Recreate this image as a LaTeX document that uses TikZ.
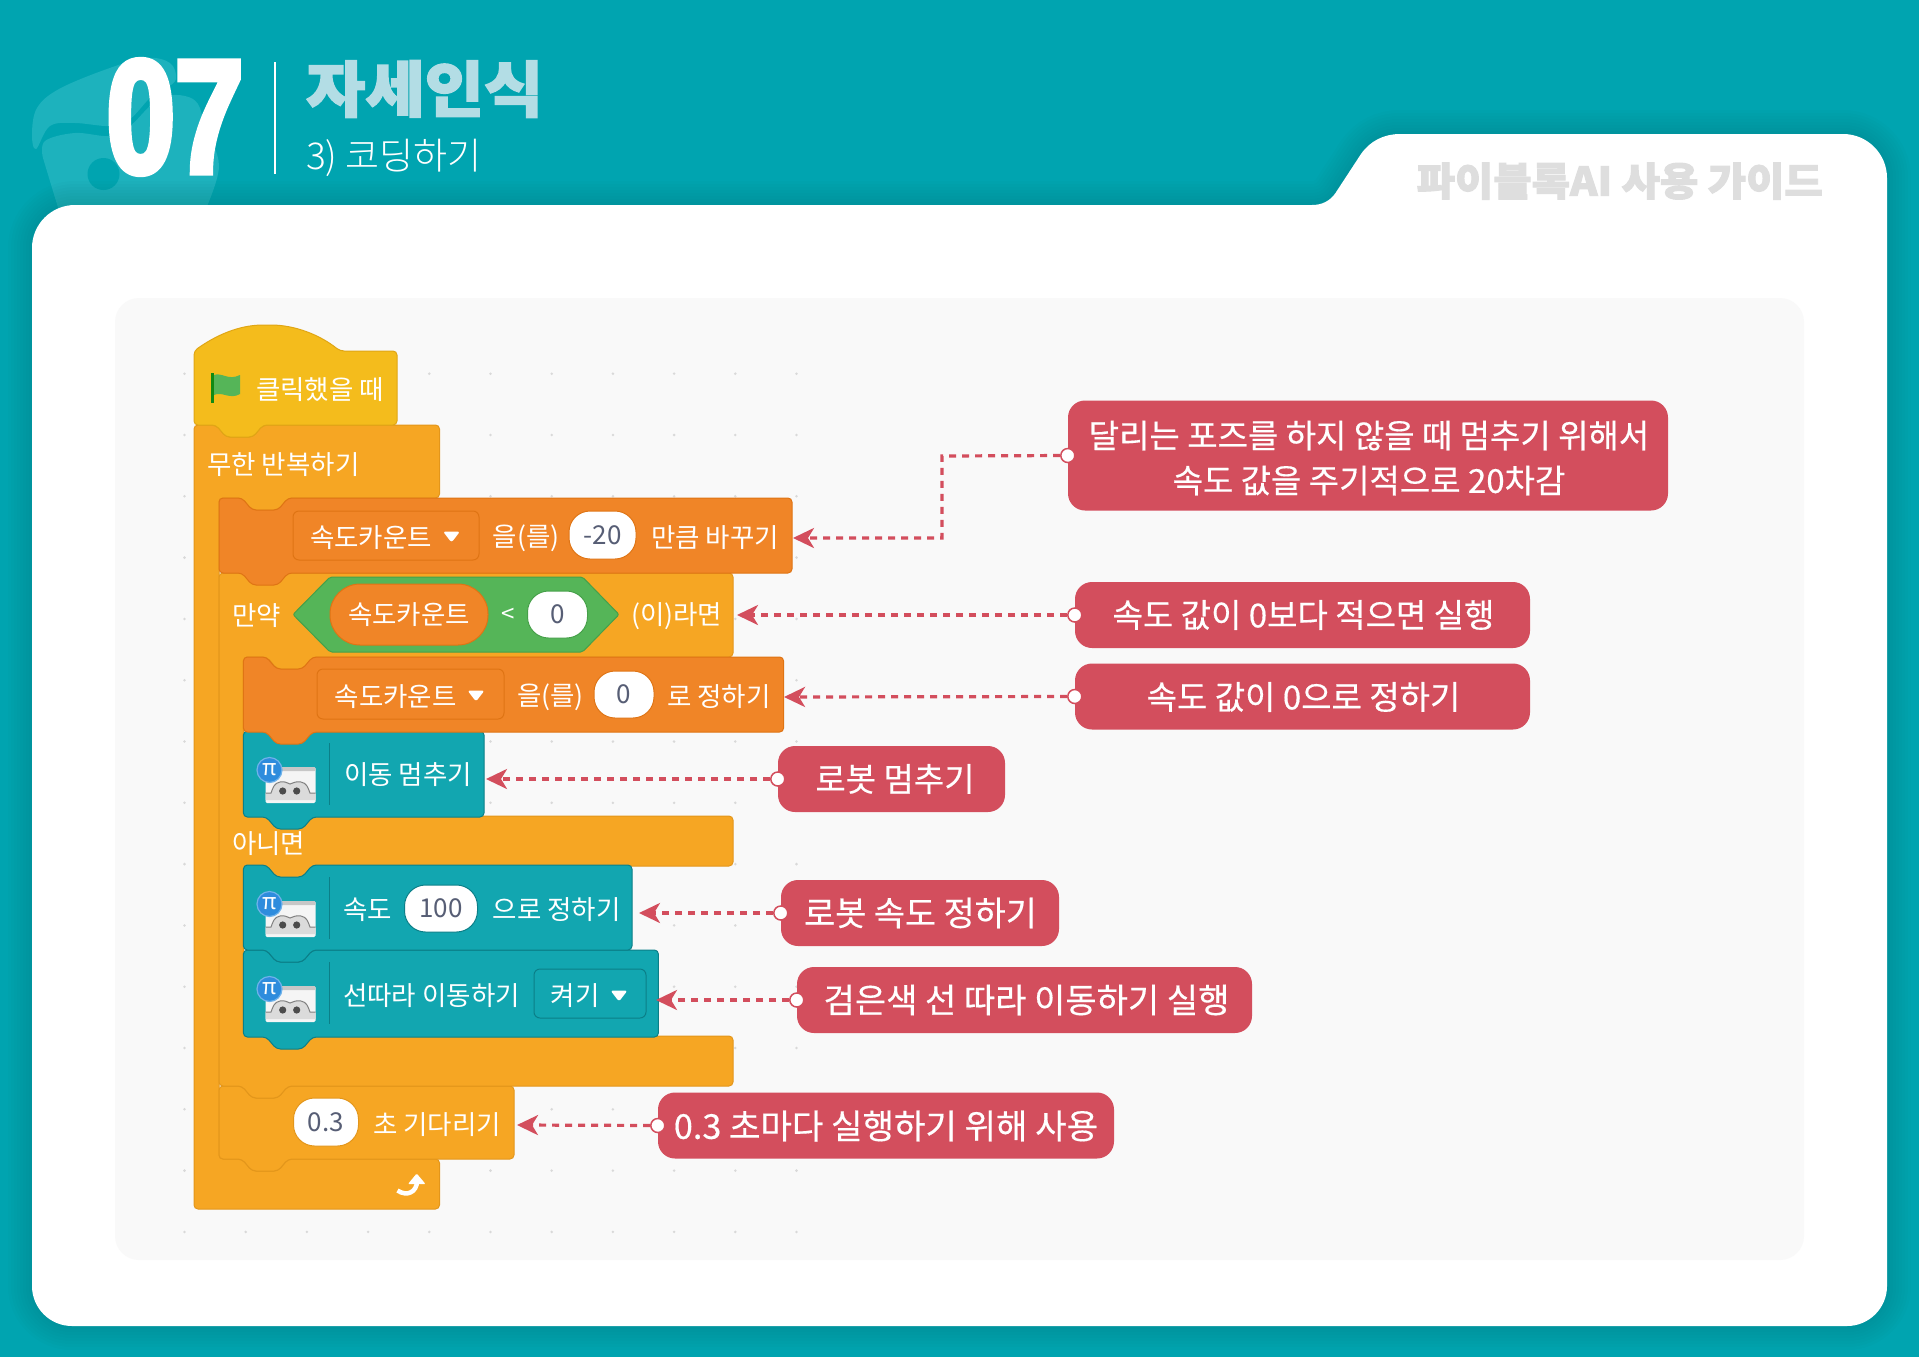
\documentclass[tikz,border=0pt]{standalone}
\usepackage{fontspec}
\usetikzlibrary{arrows.meta,calc}
\setmainfont{Noto Sans CJK KR}
\newfontfamily\numfont[FakeStretch=0.76,FakeBold=3.5]{Liberation Sans}
\newfontfamily\heavyfont[FakeBold=2.5,FakeStretch=1.06]{Noto Sans CJK KR}
\newfontfamily\kfont{Noto Sans CJK KR}
\newfontfamily\medfont[FakeBold=0.4]{Noto Sans CJK KR}
\newfontfamily\lightfont{Noto Sans CJK KR Light}
\definecolor{bgteal}{HTML}{00A4B0}
\definecolor{blobteal}{HTML}{1DB2BD}
\definecolor{titleblue}{HTML}{B3DDE5}
\definecolor{redbox}{HTML}{D34E5D}
\definecolor{ctrl}{HTML}{F6A623}
\definecolor{ctrlb}{HTML}{E3961B}
\definecolor{hatc}{HTML}{F4BC1C}
\definecolor{hatb}{HTML}{E0A615}
\definecolor{datac}{HTML}{F08527}
\definecolor{datab}{HTML}{DF7414}
\definecolor{tealc}{HTML}{12A6B0}
\definecolor{tealb}{HTML}{0B7F88}
\definecolor{opg}{HTML}{55B558}
\definecolor{opb}{HTML}{46A049}
\definecolor{valtx}{HTML}{575E75}
\definecolor{piblue}{HTML}{2E8CDD}
\definecolor{piring}{HTML}{6FB2EA}
\tikzset{
  ctrlblock/.style={fill=ctrl,draw=ctrlb,line width=1pt,rounded corners=4pt},
  hatblock/.style={fill=hatc,draw=hatb,line width=1pt,rounded corners=4pt},
  datablock/.style={fill=datac,draw=datab,line width=1pt,rounded corners=4pt},
  tealblock/.style={fill=tealc,draw=tealb,line width=1pt,rounded corners=4pt},
  btext/.style={text=white,font=\kfont\fontsize{26.5}{30}\selectfont,anchor=west,inner sep=0pt,yshift=-2pt},
  valpill/.style={fill=white,draw=#1,line width=1pt,rounded corners=21pt,inner sep=0pt,text=valtx,font=\kfont\fontsize{26}{30}\selectfont},
  dropbox/.style={draw=#1,line width=1pt,rounded corners=6pt,inner sep=0pt},
  callout/.style={fill=redbox,rounded corners=17pt,inner sep=0pt,minimum height=66pt},
  calltext/.style={text=white,align=center,inner sep=0pt,font=\medfont\fontsize{#1}{45}\selectfont},
  dotend/.style={circle,fill=white,draw=redbox,line width=1.5pt,minimum size=14pt,inner sep=0pt},
  conn/.style={draw=redbox,line width=3.2pt,dash pattern=on 7pt off 6pt,-{Stealth[length=21pt,width=20pt,inset=6pt,fill=redbox]}},
  griddot/.style={fill=black!15,draw=none},
}
\newcommand{\stackblock}[5]{%
  \draw[#1] (#2,#3) -- (#2+23,#3) -- (#2+33,#3+12) -- (#2+59,#3+12) -- (#2+69,#3) -- (#4,#3) -- (#4,#5) -- (#2+69,#5) -- (#2+59,#5+12) -- (#2+33,#5+12) -- (#2+23,#5) -- (#2,#5) -- cycle;}
\newcommand{\ddtri}[2]{%
  \fill[white,rounded corners=2.5pt] (#1-8.5,#2-3.5) -- (#1+8.5,#2-3.5) -- (#1,#2+7.5) -- cycle;}
\newcommand{\roboticon}[2]{%
  \draw[tealb,line width=1pt] (329,#1+12) -- (329,#1+74);
  \fill[black!4,rounded corners=1.5pt] (265.5,#1+36) rectangle (315.5,#1+72);
  \fill[black!22,rounded corners=1pt] (267,#1+36) rectangle (315.5,#1+40);
  \fill[black!14] (265.5,#1+69) -- (265.5,#1+62) -- (271,#1+62) .. controls (273,#1+57) and (274,#1+52) .. (280,#1+51) .. controls (285,#1+50) and (287,#1+52) .. (290,#1+53) .. controls (293,#1+52) and (296,#1+50) .. (301,#1+51) .. controls (307,#1+52) and (308,#1+57) .. (310,#1+62) -- (315.5,#1+62) -- (315.5,#1+69) -- cycle;
  \draw[black!50,line width=1pt] (265.5,#1+62) -- (271,#1+62) .. controls (273,#1+57) and (274,#1+52) .. (280,#1+51) .. controls (285,#1+50) and (287,#1+52) .. (290,#1+53) .. controls (293,#1+52) and (296,#1+50) .. (301,#1+51) .. controls (307,#1+52) and (308,#1+57) .. (310,#1+62) -- (315.5,#1+62);
  \fill[black!70] (282.7,#1+60) circle (3.6) (296.7,#1+60) circle (3.6);
  \node[circle,fill=piblue,draw=piring,line width=1.2pt,minimum size=25pt,inner sep=0pt,text=white,font=\kfont\fontsize{22}{24}\selectfont] (#2) at (269.5,#1+39) {π};}
\begin{document}
\begin{tikzpicture}[x=1pt,y=-1pt]
\useasboundingbox (0,-1) rectangle (1919,1356);
\fill[bgteal] (0,-1) rectangle (1919,1356);
% decoration
\fill[blobteal] plot[smooth cycle,tension=.6] coordinates {(36,148) (32,133) (37,107) (59,88) (107,68) (146,57) (170,62) (176,78) (165,88) (150,97) (130,118) (110,125) (75,122) (50,125)};
\fill[blobteal] plot[smooth,tension=.6] coordinates {(43,157) (45,140) (75,132) (110,135) (130,125) (150,105) (165,95) (185,95) (198,103) (205,125) (219,165) (205,210)} -- (59,210) -- cycle;
\fill[bgteal] (103.5,173) circle (16);
% panel shadow and panel
\def\panelpath{(75,204) -- (1312,204) .. controls (1322,204) and (1330,200) .. (1335.5,192) -- (1361,153) .. controls (1370,140) and (1384,133) .. (1400,133) -- (1843,133) arc[start angle=-90,end angle=0,radius=44] -- (1887,1285) arc[start angle=0,end angle=90,radius=40] -- (72,1325) arc[start angle=90,end angle=180,radius=40] -- (32,247) arc[start angle=180,end angle=270,radius=43] -- cycle}
\foreach \w in {6,12,...,48} {\draw[black,opacity=.012,line width=\w pt] \panelpath;}
\fill[white] \panelpath;
\fill[black!2.5,rounded corners=24pt] (115,297) rectangle (1804,1259);
% grid dots
\foreach \i in {0,...,10} \foreach \j in {0,...,14} {\fill[griddot] (184.5+61.2*\i,372.7+61.3*\j) circle (1.4);}
% header
\node[inner sep=0pt,text=white,anchor=center,font=\numfont\bfseries\fontsize{162}{162}\selectfont] (num) at (175,116) {07};
\coordinate (ruletop) at (275,61);
\coordinate (rulebot) at (275,173);
\draw[white,line width=2pt] (ruletop) -- (rulebot);
\node[inner sep=0pt,anchor=west,text=titleblue,font=\heavyfont\bfseries\fontsize{60.8}{63}\selectfont] (title) at (306,88) {자세인식};
\node[inner sep=0pt,anchor=west,text=white,font=\lightfont\fontsize{37}{38}\selectfont] (subtitle) at (306,157) {3) 코딩하기};
\node[inner sep=0pt,anchor=east,text=black!13,font=\heavyfont\bfseries\fontsize{39.3}{42}\selectfont] (guide) at (1823,180) {파이블록AI 사용 가이드};
\begin{scope}[yshift=1pt]
% C-block forever
\draw[ctrlblock] (194,425) -- (216,425) -- (226,437) -- (253,437) -- (263,425) -- (439.5,425) -- (439.5,498) -- (288,498) -- (278,510) -- (252,510) -- (242,498) -- (219,498) -- (219,1159) -- (242,1159) -- (252,1171) -- (278,1171) -- (288,1159) -- (439.5,1159) -- (439.5,1209) -- (194,1209) -- cycle;
% wait block
\stackblock{ctrlblock}{219}{1086}{514}{1159}
% if block
\draw[ctrlblock] (219,573) -- (733,573) -- (733,657) -- (313,657) -- (303,669) -- (277,669) -- (267,657) -- (243.4,657) -- (243.4,816) -- (267,816) -- (277,828) -- (303,828) -- (313,816) -- (733,816) -- (733,866) -- (313,866) -- (303,878) -- (277,878) -- (267,866) -- (243.4,866) -- (243.4,1036) -- (267,1036) -- (277,1048) -- (303,1048) -- (313,1036) -- (733,1036) -- (733,1086) -- (288,1086) -- (278,1098) -- (252,1098) -- (242,1086) -- (219,1086) -- cycle;
% teal blocks, lower first
\stackblock{tealblock}{243.4}{950}{658.4}{1037}
\stackblock{tealblock}{243.4}{865}{632}{950}
\stackblock{tealblock}{243.4}{731}{484}{817}
\stackblock{datablock}{243.4}{657}{783.6}{732}
\stackblock{datablock}{219}{498}{792}{573}
% hat
\draw[hatblock] (194,351) .. controls (222,331) and (245,325) .. (267,325) .. controls (295,325) and (320,335) .. (340,351) -- (397,351) -- (397,425) -- (263,425) -- (253,437) -- (226,437) -- (216,425) -- (194,425) -- cycle;
% flag
\draw[green!50!black!80!opg,line width=3pt] (212,373) -- (212,403);
\fill[opg] (214,375) .. controls (222,372) and (228,381) .. (240,375) -- (240,394) .. controls (230,400) and (222,391) .. (214,395) -- cycle;
\node[btext] (tclick) at (256,388) {클릭했을 때};
\node[btext] (tforever) at (207,463) {무한 반복하기};
% change block
\node[dropbox=datab,minimum width=186pt,minimum height=49pt] (dd1) at (386,535.5) {};
\node[btext] (tvar1) at (310,536) {속도카운트};
\ddtri{451.5}{535}
\node[btext] (teul1) at (492.5,536) {을(를)};
\node[valpill=datab,minimum width=67pt,minimum height=48pt] (val20) at (602.5,535) {-20};
\node[btext] (tchange) at (651,536) {만큼 바꾸기};
% if header
\node[btext] (tif) at (232,614) {만약};
\draw[fill=opg,draw=opb,line width=1pt,rounded corners=2pt] (293,614.5) -- (330,577) -- (582.5,577) -- (619,614.5) -- (582.5,652) -- (330,652) -- cycle;
\node[fill=datac,draw=datab,line width=1pt,rounded corners=30pt,minimum width=158pt,minimum height=61pt,inner sep=0pt,text=white,font=\kfont\fontsize{26.5}{30}\selectfont] (tvarop) at (409,614.5) {속도카운트};
\node[inner sep=0pt,text=white,font=\kfont\fontsize{24}{24}\selectfont] (tlt) at (508,615) {<};
\node[valpill=opb,minimum width=60pt,minimum height=47pt] (val0a) at (557.5,614.5) {0};
\node[btext] (tthen) at (631,614) {(이)라면};
% set block
\node[dropbox=datab,minimum width=187pt,minimum height=50pt] (dd2) at (410.5,694) {};
\node[btext] (tvar2) at (334.5,695) {속도카운트};
\ddtri{476}{694}
\node[btext] (teul2) at (517,695) {을(를)};
\node[valpill=datab,minimum width=60pt,minimum height=47pt] (val0b) at (624,694.5) {0};
\node[btext] (tset) at (667,695) {로 정하기};
% teal 1
\roboticon{731}{pi1}
\node[btext] (tstop) at (344,773) {이동 멈추기};
\node[btext] (telse) at (232,842) {아니면};
% teal 2
\roboticon{865}{pi2}
\node[btext] (tspeed) at (343,908) {속도};
\node[valpill=tealb,minimum width=73pt,minimum height=47pt] (val100) at (441,908.5) {100};
\node[btext] (tspeed2) at (492.5,908) {으로 정하기};
% teal 3
\roboticon{950}{pi3}
\node[btext] (tline) at (343,994) {선따라 이동하기};
\node[dropbox=tealb,minimum width=112pt,minimum height=49pt] (dd3) at (590,993.5) {};
\node[btext] (ton) at (550.5,994) {켜기};
\ddtri{619}{994}
% wait
\node[valpill=ctrlb,minimum width=65pt,minimum height=48pt] (val03) at (326,1122) {0.3};
\node[btext] (twait) at (373,1123) {초 기다리기};
% loop arrow
\draw[white,line width=4.5pt] (397.5,1190.5) .. controls (407,1197) and (417,1192) .. (417,1181);
\fill[white,rounded corners=1pt] (425.5,1184) -- (416.7,1173.5) -- (408,1184) -- cycle;
\end{scope}
% callouts
\node[callout,minimum width=600pt,minimum height=110pt] (c1) at (1368,454.5) {};
\node[calltext=33] (l1) at (1369,457) {달리는 포즈를 하지 않을 때 멈추기 위해서\\속도 값을 주기적으로 20차감};
\node[callout,minimum width=455pt] (c2) at (1302.5,614) {};
\node[calltext=33] (l2) at (1303.5,614) {속도 값이 0보다 적으면 실행};
\node[callout,minimum width=455pt] (c3) at (1302.5,695.5) {};
\node[calltext=33] (l3) at (1303.5,696) {속도 값이 0으로 정하기};
\node[callout,minimum width=227pt] (c4) at (891.5,778) {};
\node[calltext=33] (l4) at (895,778) {로봇 멈추기};
\node[callout,minimum width=278pt] (c5) at (920,912) {};
\node[calltext=33.8] (l5) at (920.5,912) {로봇 속도 정하기};
\node[callout,minimum width=455pt] (c6) at (1024.5,999) {};
\node[calltext=34] (l6) at (1026.5,999) {검은색 선 따라 이동하기 실행};
\node[callout,minimum width=456pt] (c7) at (886,1124.5) {};
\node[calltext=34.2] (l7) at (886,1125) {0.3 초마다 실행하기 위해 사용};
% connector ends
\coordinate (t1) at (793,537);
\coordinate (t2) at (737,614);
\coordinate (t3) at (784,696);
\coordinate (t4) at (486,778);
\coordinate (t5) at (639,912);
\coordinate (t6) at (656,999);
\coordinate (t7) at (517,1124);
\coordinate (bend1) at (942,455);
\coordinate (bend2) at (942,537);
\node[dotend] (d1) at (c1.west) {};
\node[dotend] (d2) at (c2.west) {};
\node[dotend] (d3) at (c3.west) {};
\node[dotend] (d4) at (c4.west) {};
\node[dotend] (d5) at (c5.west) {};
\node[dotend] (d6) at (c6.west) {};
\node[dotend] (d7) at (c7.west) {};
\draw[conn] (d1) -- (bend1) -- (bend2) -- (t1);
\draw[conn] (d2) -- (t2);
\draw[conn] (d3) -- (t3);
\draw[conn] (d4) -- (t4);
\draw[conn] (d5) -- (t5);
\draw[conn] (d6) -- (t6);
\draw[conn] (d7) -- (t7);
\end{tikzpicture}
\end{document}
